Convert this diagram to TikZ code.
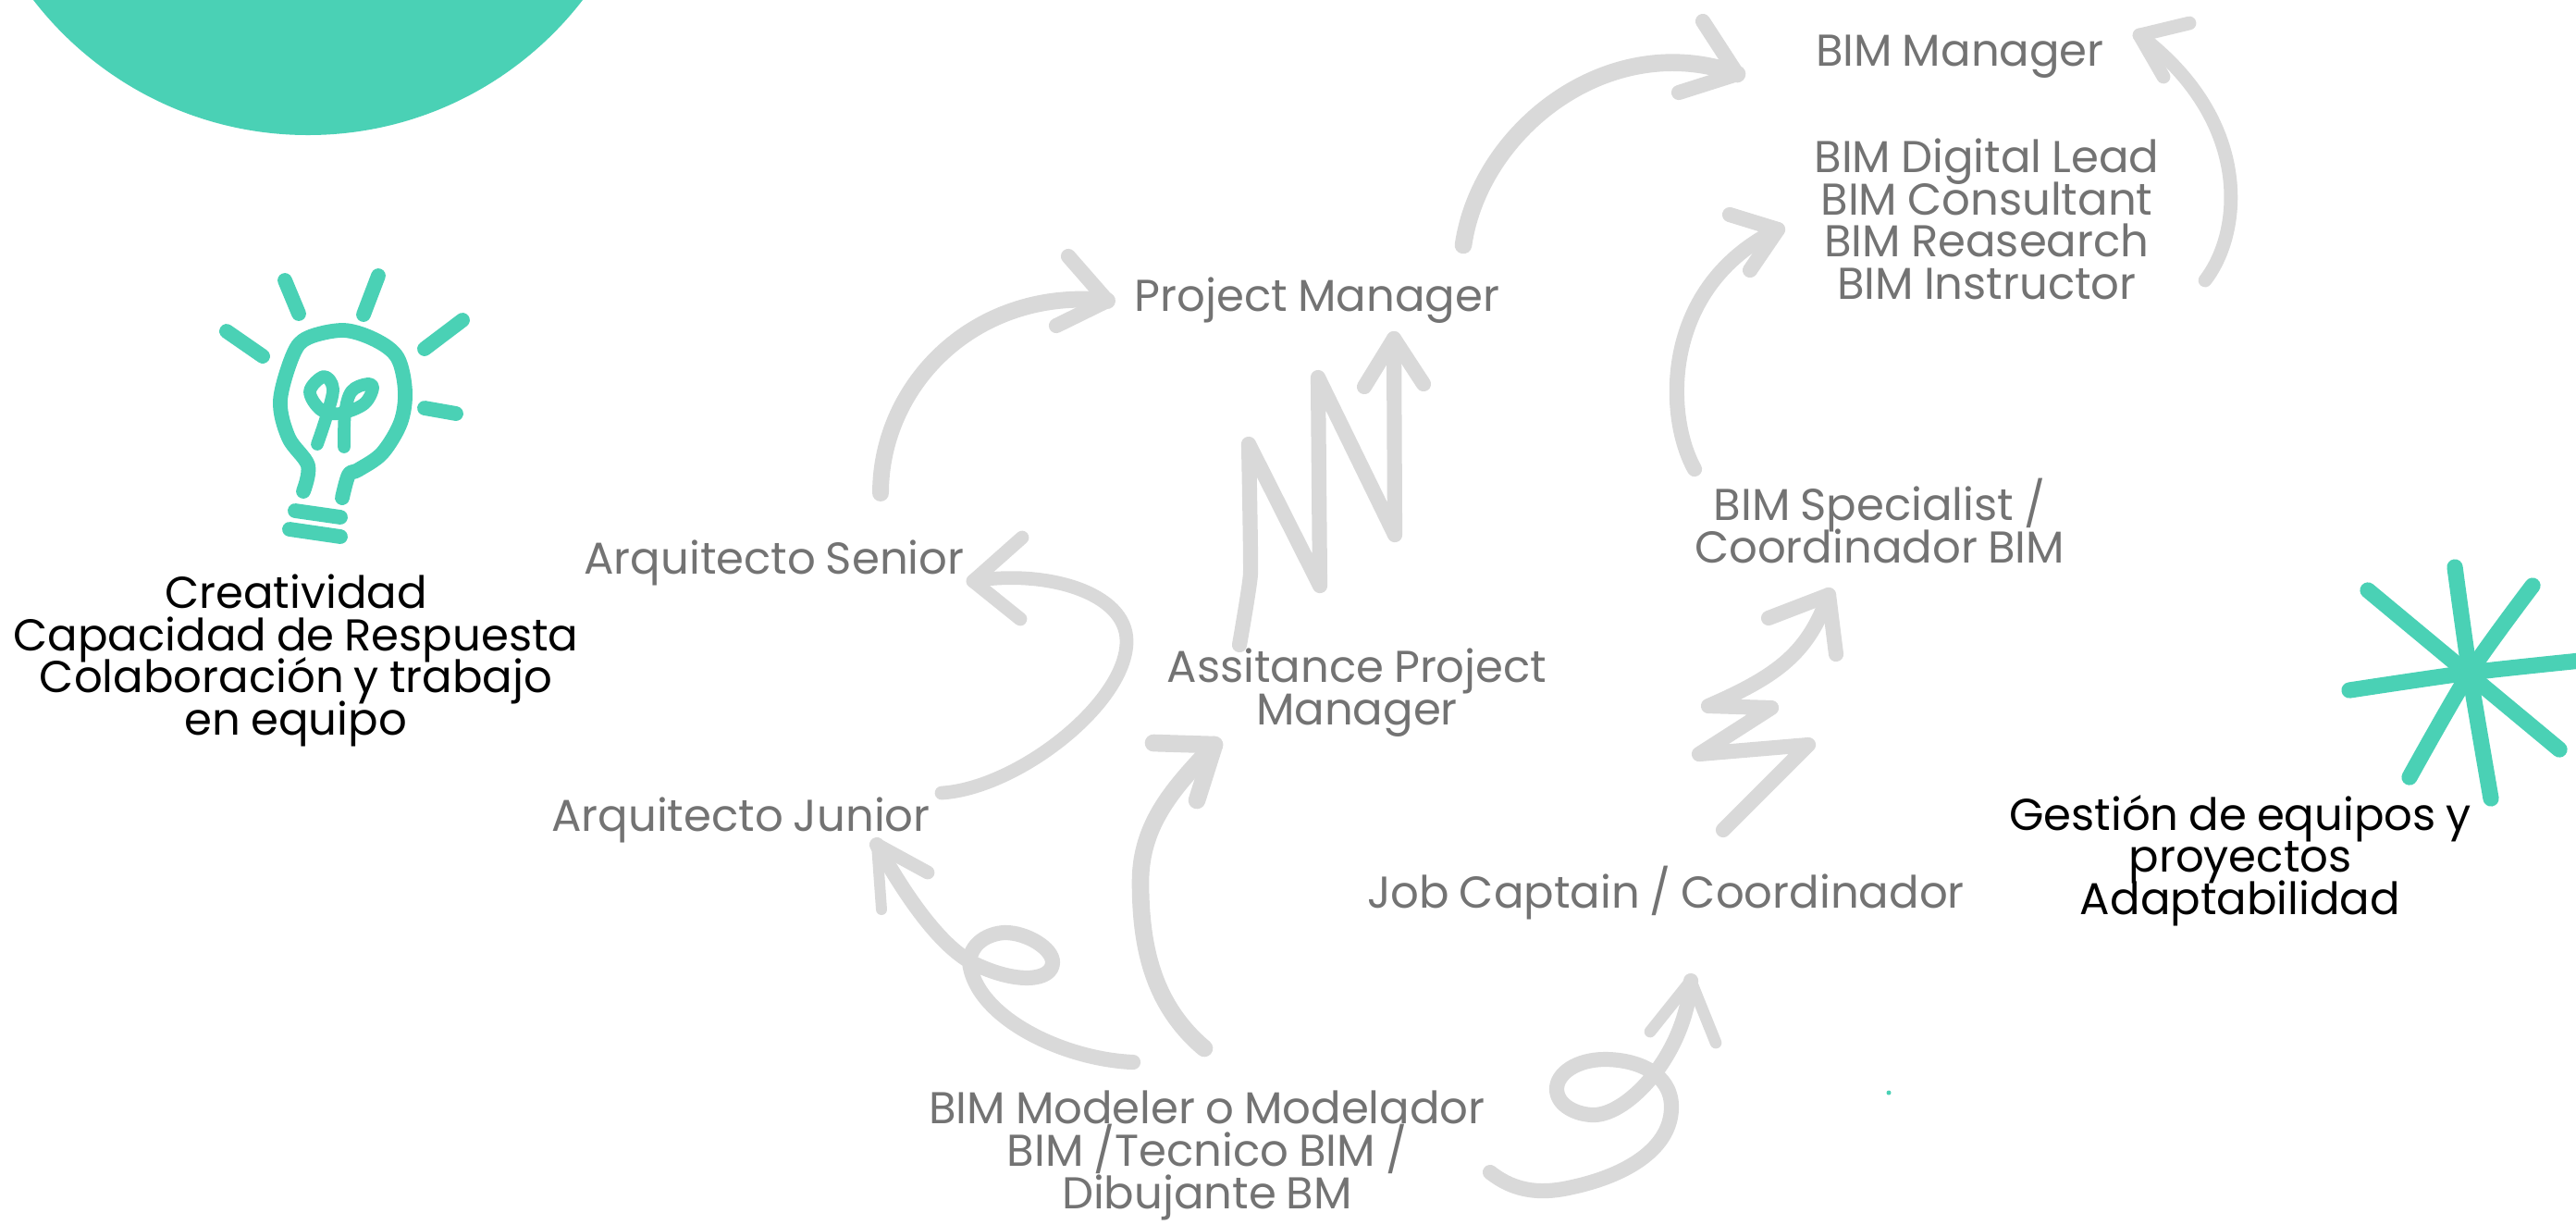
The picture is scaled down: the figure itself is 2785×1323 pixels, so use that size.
\documentclass[tikz,border=0pt]{standalone}
\usepackage{fontspec}
\setmainfont[WordSpace=0.85]{Poppins}
\definecolor{teal1}{HTML}{4AD1B5}
\definecolor{arrowgray}{HTML}{D9D9D9}
\definecolor{textgray}{HTML}{737373}
\newcommand{\lbl}{\fontsize{13.7}{13}\selectfont\lineskiplimit=-100pt\relax}
\tikzset{
  graytext/.style={text=textgray,font=\lbl,align=center,inner sep=0pt},
  blacktext/.style={text=black,font=\lbl,align=center,inner sep=0pt},
  scrib/.style={draw=arrowgray,line width=4.6pt,line cap=round,line join=round},
  scribthin/.style={scrib,line width=4.2pt},
  scribthick/.style={scrib,line width=5.3pt},
  sketch/.style={draw=teal1,line width=4.5pt,line cap=round,line join=round},
  starline/.style={sketch,line width=4.9pt},
}
\begin{document}
\begin{tikzpicture}[x=0.01cm,y=-0.01cm]
\useasboundingbox (0,0) rectangle (2785,1323);
\begin{scope}
\clip (0,0) rectangle (2785,1323);
\fill[teal1] (333,-229) circle (375);
\draw[starline] (2560,638) -- (2767,810);
\draw[starline] plot[smooth] coordinates {(2654,613) (2670,727) (2693,863)};
\draw[starline] plot[smooth] coordinates {(2738,633) (2670,727) (2605,840)};
\draw[starline] plot[smooth] coordinates {(2540,746) (2670,727) (2800,713)};
\end{scope}
\fill[teal1] (2042,1181) circle (2.5);
% bulb
\draw[sketch] plot[smooth,tension=.55] coordinates {(370,538) (377,513) (387,508) (413,490) (433,457) (438,423) (430,387) (407,368) (372,357) (333,365) (317,383) (303,433) (312,473) (333,503) (328,531)};
\draw[sketch] (308,303) -- (323,339);
\draw[sketch] (409,298) -- (393,340);
\draw[sketch] (245,358) -- (284,385);
\draw[sketch] (500,346) -- (459,377);
\draw[sketch] (459,441) -- (493,447);
\draw[sketch] (319,552) -- (368,559);
\draw[sketch] (313,572) -- (368,580);
\draw[sketch,line width=3.9pt] plot[smooth,tension=.6] coordinates {(343,480) (353,450) (360,420) (350,407) (335,423) (347,443) (367,447) (393,437) (403,420) (397,415) (380,423) (373,447) (372,483)};
% labels
\node[graytext] (senior) at (837,608) {Arquitecto Senior};
\node[graytext] (junior) at (801,886) {Arquitecto Junior};
\node[graytext] (pm) at (1424,325) {Project Manager};
\node[graytext] (apm) at (1467,749) {Assitance Project\\Manager};
\node[graytext] (mgr) at (2119,61) {BIM Manager};
\node[graytext] (lead) at (2148,237) {BIM Digital Lead\\BIM Consultant\\BIM Reasearch\\BIM Instructor};
\node[graytext] (spec) at (2032,563) {BIM Specialist /\\Coordinador BIM};
\node[graytext] (job) at (1801,965) {Job Captain / Coordinador};
\node[graytext] (mod) at (1305,1249) {BIM Modeler o Modelador\\BIM /Tecnico BIM /\\Dibujante BM};
\node[blacktext] (soft1) at (320,714) {Creatividad\\Capacidad de Respuesta\\Colaboración y trabajo\\en equipo};
\node[blacktext] (soft2) at (2422,930) {Gestión de equipos y\\proyectos\\Adaptabilidad};
% arrow ends
\coordinate (a1s) at (1018,857); \coordinate (a1t) at (1052,628);
\coordinate (a2s) at (952,533);  \coordinate (a2t) at (1197,325);
\coordinate (a3s) at (1582,265); \coordinate (a3t) at (1878,80);
\coordinate (a4s) at (1832,507); \coordinate (a4t) at (1922,248);
\coordinate (a5s) at (2384,303); \coordinate (a5t) at (2313,38);
\coordinate (a6s) at (1340,697); \coordinate (a6t) at (1507,366);
\coordinate (a7s) at (1863,897); \coordinate (a7t) at (1977,643);
\coordinate (a8s) at (1302,1133);\coordinate (a8t) at (1313,805);
\coordinate (a9s) at (1225,1148);\coordinate (a9t) at (948,913);
\coordinate (a10s) at (1611,1267);\coordinate (a10t) at (1828,1060);
% arrows
\draw[scribthin] (a1s) .. controls (1100,852) and (1218,760) .. (1218,693) .. controls (1218,640) and (1130,615) .. (a1t);
\draw[scribthin] (1105,581) -- (a1t) -- (1103,669);
\draw[scrib,line width=5.1pt] (a2s) .. controls (952,415) and (1055,310) .. (a2t);
\draw[scrib] (1155,277) -- (a2t) -- (1142,352);
\draw[scribthick] (a3s) .. controls (1600,140) and (1740,30) .. (a3t);
\draw[scrib] (1841,23) -- (a3t) -- (1815,100);
\draw[scrib] (a4s) .. controls (1800,450) and (1795,310) .. (a4t);
\draw[scrib] (1870,232) -- (a4t) -- (1892,292);
\draw[scribthin] (a5s) .. controls (2425,250) and (2435,130) .. (a5t);
\draw[scribthin] (2367,25) -- (a5t) -- (2339,83);
\draw[scrib] plot[smooth,tension=.2] coordinates {(a6s) (1352,620) (1350,480)} -- (1427,633) -- (1425,408) -- (1508,578) -- (a6t);
\draw[scrib] (1475,418) -- (a6t) -- (1539,415);
\draw[scrib] (a7s) -- (1955,805) -- (1837,815) -- (1915,765) -- (1847,763) .. controls (1923,730) and (1955,705) .. (a7t);
\draw[scrib] (1912,668) -- (a7t) -- (1985,707);
\draw[scribthick] (a8s) .. controls (1245,1085) and (1233,1020) .. (1233,953) .. controls (1233,890) and (1270,850) .. (a8t);
\draw[scribthick] (1247,803) -- (a8t) -- (1294,865);
\draw[scrib] (a9s) .. controls (1150,1145) and (1055,1100) .. (1048,1040) .. controls (1050,1015) and (1075,1008) .. (1087,1008) .. controls (1110,1008) and (1138,1025) .. (1138,1040) .. controls (1138,1060) and (1100,1065) .. (1050,1040) .. controls (1015,1020) and (980,970) .. (a9t);
\draw[scribthin] (1003,943) -- (a9t);
\draw[scribthin,line width=3.4pt] (a9t) -- (953,983);
\draw[scrib] (a10s) .. controls (1640,1290) and (1670,1290) .. (1700,1283) .. controls (1760,1270) and (1808,1240) .. (1807,1195) .. controls (1806,1160) and (1770,1145) .. (1735,1145) .. controls (1705,1145) and (1683,1160) .. (1683,1177) .. controls (1683,1195) and (1705,1205) .. (1723,1205) .. controls (1760,1205) and (1822,1140) .. (a10t);
\draw[scrib,line width=3.6pt] (1784,1115) -- (a10t) -- (1855,1127);
\end{tikzpicture}
\end{document}
